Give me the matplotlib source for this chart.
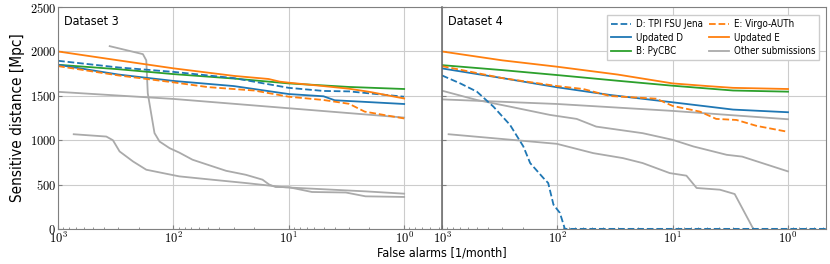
import matplotlib
matplotlib.use("Agg")
import math
import matplotlib.pyplot as plt
from matplotlib.ticker import LogLocator, FuncFormatter, NullFormatter

plt.rcParams['font.family'] = ['DejaVu Sans Condensed', 'DejaVu Sans']
plt.rcParams['font.stretch'] = 'condensed'
plt.rcParams['mathtext.fontset'] = 'cm'

# Dataset 3: (false alarms per month, sensitive distance in Mpc)
d3_far_updE = [1000, 300, 100, 30, 15, 12, 10, 5, 3, 2, 1]
d3_dist_updE = [2000, 1900, 1810, 1725, 1690, 1660, 1648, 1610, 1580, 1545, 1470]
d3_far_pycbc = [1000, 300, 100, 30, 10, 3, 1]
d3_dist_pycbc = [1850, 1800, 1745, 1695, 1640, 1600, 1577]
d3_far_D = [1000, 300, 100, 30, 10, 5, 3, 1]
d3_dist_D = [1895, 1820, 1770, 1700, 1590, 1555, 1550, 1490]
d3_far_updD = [1000, 300, 100, 30, 10, 5, 4, 1]
d3_dist_updD = [1850, 1740, 1668, 1610, 1520, 1495, 1450, 1408]
d3_far_E = [1000, 300, 100, 50, 20, 10, 5, 3, 2.2, 1]
d3_dist_E = [1835, 1730, 1652, 1598, 1560, 1490, 1453, 1410, 1322, 1245]
d3_far_other1 = [1000, 100, 10, 1]
d3_dist_other1 = [1545, 1465, 1360, 1255]
d3_far_other2 = [357, 184, 172, 167, 156, 146, 132, 108, 89, 68.4, 52.4, 35, 23.6, 16.9, 14.8, 13.0, 10, 6.3, 3.2, 2.16, 1]
d3_dist_other2 = [2060, 1970, 1900, 1530, 1300, 1080, 985, 910, 860, 780, 730, 655, 610, 555, 500, 472, 470, 416, 410, 367, 360]
d3_far_other3 = [732, 382, 335, 293, 224, 172, 116, 89, 45.8, 23.6, 10.6, 5.4, 2.16, 1]
d3_dist_other3 = [1067, 1041, 1000, 873, 760, 667, 622, 592, 554, 517, 468, 449, 423, 397]

# Dataset 4
d4_far_updE = [1000, 300, 100, 30, 10, 5, 3, 1]
d4_dist_updE = [2000, 1900, 1828, 1740, 1640, 1610, 1590, 1577]
d4_far_pycbc = [1000, 300, 100, 30, 10, 3, 1]
d4_dist_pycbc = [1846, 1790, 1734, 1670, 1614, 1560, 1547]
d4_far_updD = [1000, 300, 100, 35, 10, 5, 3, 1]
d4_dist_updD = [1809, 1700, 1596, 1510, 1427, 1380, 1345, 1315]
d4_far_E = [1000, 300, 100, 59.6, 35, 13.9, 10, 5.8, 4.2, 2.8, 1.87, 1]
d4_dist_E = [1835, 1700, 1610, 1577, 1498, 1468, 1386, 1322, 1240, 1228, 1161, 1094]
d4_far_D = [1000, 694, 498, 358, 257, 197, 172, 132, 120, 108, 95, 86, 0.47]
d4_dist_D = [1730, 1640, 1547, 1378, 1172, 929, 742, 573, 517, 273, 180, 0, 0]
d4_far_other1 = [1000, 100, 10, 1]
d4_dist_other1 = [1460, 1408, 1330, 1236]
d4_far_other2 = [1000, 498, 257, 116, 68, 46, 18.2, 10, 6.6, 3.4, 2.5, 1]
d4_dist_other2 = [1558, 1453, 1378, 1285, 1240, 1153, 1079, 1004, 929, 835, 815, 648]
d4_far_other3 = [876, 101, 48.8, 27, 18.2, 10.6, 7.6, 6.2, 3.9, 2.9, 2.0]
d4_dist_other3 = [1067, 959, 854, 798, 742, 629, 600, 461, 442, 393, 0]

blue = '#1f77b4'
orange = '#ff7f0e'
green = '#2ca02c'
grey = '#aaaaaa'
frame = '#808080'
lw = 1.3

fig = plt.figure(figsize=(8.3, 2.64), dpi=100)
ax1 = fig.add_axes([0.070, 0.133, 0.4625, 0.840])
ax2 = fig.add_axes([0.5325, 0.133, 0.4625, 0.840], sharey=ax1)

def sci(v, pos):
    e = int(round(math.log10(v)))
    return r'$10^{%d}$' % e

for ax in (ax1, ax2):
    ax.set_xscale('log')
    ax.set_xlim(1000, 0.47)
    ax.set_ylim(0, 2500)
    ax.set_yticks([0, 500, 1000, 1500, 2000, 2500])
    ax.xaxis.set_major_locator(LogLocator(base=10))
    ax.xaxis.set_major_formatter(FuncFormatter(sci))
    ax.xaxis.set_minor_formatter(NullFormatter())
    ax.grid(True, which='major', color='#cccccc', lw=0.8)
    ax.set_axisbelow(True)
    ax.tick_params(which='both', direction='in', pad=1.5, labelsize=9, color=frame)
    ax.tick_params(which='major', length=3)
    ax.tick_params(which='minor', length=1.5)
    for s in ax.spines.values():
        s.set_color(frame)
ax2.spines['left'].set_color('#666666')
ax2.spines['left'].set_linewidth(1.1)

ax1.yaxis.set_major_formatter(FuncFormatter(lambda v, p: r'$%d$' % v))
plt.setp(ax2.get_yticklabels(), visible=False)

# Dataset 3
ax1.plot(d3_far_other1, d3_dist_other1, color=grey, lw=lw)
ax1.plot(d3_far_other2, d3_dist_other2, color=grey, lw=lw)
ax1.plot(d3_far_other3, d3_dist_other3, color=grey, lw=lw)
ax1.plot(d3_far_pycbc, d3_dist_pycbc, color=green, lw=lw)
ax1.plot(d3_far_updD, d3_dist_updD, color=blue, lw=lw)
ax1.plot(d3_far_D, d3_dist_D, color=blue, lw=lw, ls='--')
ax1.plot(d3_far_E, d3_dist_E, color=orange, lw=lw, ls='--')
ax1.plot(d3_far_updE, d3_dist_updE, color=orange, lw=lw)

# Dataset 4
ax2.plot(d4_far_other1, d4_dist_other1, color=grey, lw=lw, label='Other submissions')
ax2.plot(d4_far_other2, d4_dist_other2, color=grey, lw=lw)
ax2.plot(d4_far_other3, d4_dist_other3, color=grey, lw=lw)
ax2.plot(d4_far_pycbc, d4_dist_pycbc, color=green, lw=lw, label='B: PyCBC')
ax2.plot(d4_far_updD, d4_dist_updD, color=blue, lw=lw, label='Updated D')
ax2.plot(d4_far_D, d4_dist_D, color=blue, lw=lw, ls='--', label='D: TPI FSU Jena')
ax2.plot(d4_far_E, d4_dist_E, color=orange, lw=lw, ls='--', label='E: Virgo-AUTh')
ax2.plot(d4_far_updE, d4_dist_updE, color=orange, lw=lw, label='Updated E')

handles, labels = ax2.get_legend_handles_labels()
order = ['D: TPI FSU Jena', 'Updated D', 'B: PyCBC', 'E: Virgo-AUTh', 'Updated E', 'Other submissions']
hmap = dict(zip(labels, handles))
ax2.legend([hmap[k] for k in order], order, ncol=2, loc='upper right',
           fontsize=7, columnspacing=0.7, handlelength=2.0, handletextpad=0.5,
           labelspacing=0.35, borderpad=0.4, fancybox=False, framealpha=1,
           bbox_to_anchor=(0.995, 0.985))

ax1.text(0.015, 0.965, 'Dataset 3', transform=ax1.transAxes, fontsize=9, va='top', ha='left')
ax2.text(0.015, 0.965, 'Dataset 4', transform=ax2.transAxes, fontsize=9, va='top', ha='left')

ax1.set_ylabel('Sensitive distance [Mpc]', fontsize=11, labelpad=3)
fig.text(0.5325, 0.040, 'False alarms [1/month]', ha='center', va='center', fontsize=9)

fig.savefig('out.png', dpi=100)
